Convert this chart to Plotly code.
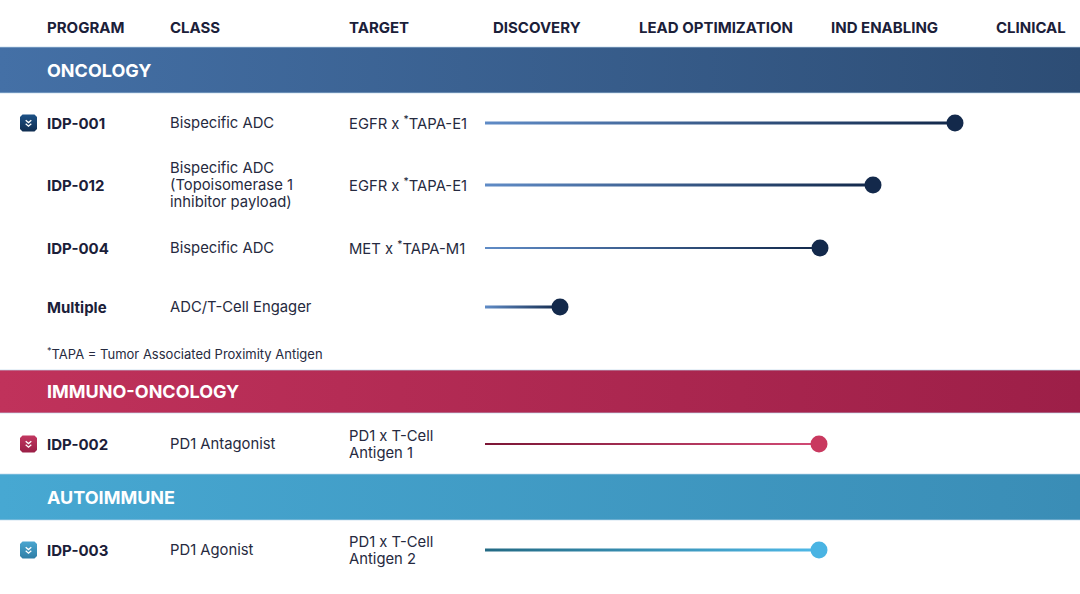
import plotly.graph_objects as go

# ---------------- data ----------------
stages = ["DISCOVERY", "LEAD OPTIMIZATION", "IND ENABLING", "CLINICAL"]
columns = ["PROGRAM", "CLASS", "TARGET"]
areas = ["ONCOLOGY", "IMMUNO-ONCOLOGY", "AUTOIMMUNE"]
programs = ["IDP-001", "IDP-012", "IDP-004", "Multiple", "IDP-002", "IDP-003"]
classes = ["Bispecific ADC",
           "Bispecific ADC<br>(Topoisomerase 1<br>inhibitor payload)",
           "Bispecific ADC",
           "ADC/T-Cell Engager",
           "PD1 Antagonist",
           "PD1 Agonist"]
targets = ["EGFR x <sup>*</sup>TAPA-E1",
           "EGFR x <sup>*</sup>TAPA-E1",
           "MET x <sup>*</sup>TAPA-M1",
           "",
           "PD1 x T-Cell<br>Antigen 1",
           "PD1 x T-Cell<br>Antigen 2"]
program_area = [0, 0, 0, 0, 1, 2]
has_icon = [True, False, False, False, True, True]
# progress: start and end position on the stage scale (x axis, px units)
progress_start = [485, 485, 485, 485, 485, 485]
progress_end = [955, 873, 820, 560, 819, 819]
footnote = "<sup>*</sup>TAPA = Tumor Associated Proximity Antigen"

# ---------------- layout / style ----------------
W, H = 1080, 594
FONT = "Inter"
DARK = "#1b2039"
TEXT = "#262a40"
stage_x = [537, 716, 884, 1031]
col_x = [47, 170, 349]
header_y = 27
band_y = [(47, 93), (370, 413), (474, 520)]
row_y = [123, 185, 248, 307, 444, 550]
foot_y = 353
LINE_H = 17
band_colors = [("#4470a6", "#2d4d75"), ("#c0325b", "#9d1f48"), ("#47a8d2", "#3a8db6")]
line_colors = [("#5f8bc6", "#12284a"), ("#7c1636", "#d24b76"), ("#236a84", "#4fb9e8")]
dot_colors = ["#13294b", "#c9395f", "#4ab4e3"]
icon_colors = [("#1d5287", "#0f2c50"), ("#c23760", "#9a1f46"), ("#4aa6d0", "#2f7ea6")]
line_thick = [3, 3, 2, 3, 2, 3]

fig = go.Figure()
annotations = []
shapes = []


def add_text(x, y, text, size, color, bold=False, xanchor="left"):
    annotations.append(dict(x=x, y=y, text=text, xanchor=xanchor, yanchor="middle",
                            showarrow=False, xshift=-2 if xanchor == "left" else 0,
                            font=dict(family=FONT, size=size, color=color,
                                      weight=700 if bold else 400)))


def add_multiline(x, y, text, size, color):
    parts = text.split("<br>")
    n = len(parts)
    for k, p in enumerate(parts):
        add_text(x, y + (k - (n - 1) / 2) * LINE_H, p, size, color)


# header
for name, x in zip(columns, col_x):
    add_text(x, header_y, name, 15, DARK, bold=True)
for name, x in zip(stages, stage_x):
    add_text(x, header_y, name, 15, DARK, bold=True, xanchor="center")

# bands
for i, (name, (y0, y1)) in enumerate(zip(areas, band_y)):
    c0, c1 = band_colors[i]
    fig.add_trace(go.Scatter(x=[0, W, W, 0, 0], y=[y0, y0, y1, y1, y0], mode="lines",
                             line=dict(width=0), fill="toself",
                             fillgradient=dict(type="horizontal", colorscale=[[0, c0], [1, c1]]),
                             hoverinfo="skip", showlegend=False))
    for yy in (y0, y1):
        shapes.append(dict(type="line", xref="x", yref="y", x0=0, x1=W, y0=yy, y1=yy,
                           line=dict(color="rgba(190,215,235,0.7)", width=1)))
    add_text(col_x[0], (y0 + y1) / 2, name, 18, "white", bold=True)

# rows
for i in range(len(programs)):
    a = program_area[i]
    y = row_y[i]
    add_text(col_x[0], y, programs[i], 15, DARK, bold=True)
    add_multiline(col_x[1], y, classes[i], 14.8, TEXT)
    if targets[i]:
        add_multiline(col_x[2], y, targets[i], 14.8, TEXT)
    # gradient progress line
    h = line_thick[i] / 2
    xs, xe = progress_start[i], progress_end[i]
    c0, c1 = line_colors[a]
    fig.add_trace(go.Scatter(x=[xs, xe, xe, xs, xs], y=[y - h, y - h, y + h, y + h, y - h],
                             mode="lines", line=dict(width=0), fill="toself",
                             fillgradient=dict(type="horizontal", colorscale=[[0, c0], [1, c1]]),
                             hoverinfo="skip", showlegend=False))
    fig.add_trace(go.Scatter(x=[xe], y=[y], mode="markers",
                             marker=dict(size=17, color=dot_colors[a], line=dict(width=0)),
                             hoverinfo="skip", showlegend=False))
    # icon
    if has_icon[i]:
        cx, cy, s, r = 28.5, y, 8.5, 2.5
        ic0, ic1 = icon_colors[a]
        xs_i = [cx - s + r, cx + s - r, cx + s, cx + s, cx + s - r, cx - s + r, cx - s, cx - s, cx - s + r]
        ys_i = [cy - s, cy - s, cy - s + r, cy + s - r, cy + s, cy + s, cy + s - r, cy - s + r, cy - s]
        fig.add_trace(go.Scatter(x=xs_i, y=ys_i, mode="lines", line=dict(width=0), fill="toself",
                                 fillgradient=dict(type="vertical", colorscale=[[0, ic1], [1, ic0]]),
                                 hoverinfo="skip", showlegend=False))
        for dy in (-2.8, 0.8):
            shapes.append(dict(type="path", xref="x", yref="y",
                               path=f"M {cx-2.8},{cy+dy} L {cx},{cy+dy+2.4} L {cx+2.8},{cy+dy}",
                               line=dict(color="white", width=1.3)))

add_text(col_x[0], foot_y, footnote, 13, TEXT)

fig.update_layout(
    width=W, height=H, margin=dict(l=0, r=0, t=0, b=0),
    paper_bgcolor="white", plot_bgcolor="white",
    xaxis=dict(range=[0, W], visible=False, fixedrange=True),
    yaxis=dict(range=[H, 0], visible=False, fixedrange=True),
    annotations=annotations, shapes=shapes, showlegend=False,
)
fig.write_html("out.html", config={"displayModeBar": False},
               post_script="document.body.style.margin='0';document.body.style.overflow='hidden';")
